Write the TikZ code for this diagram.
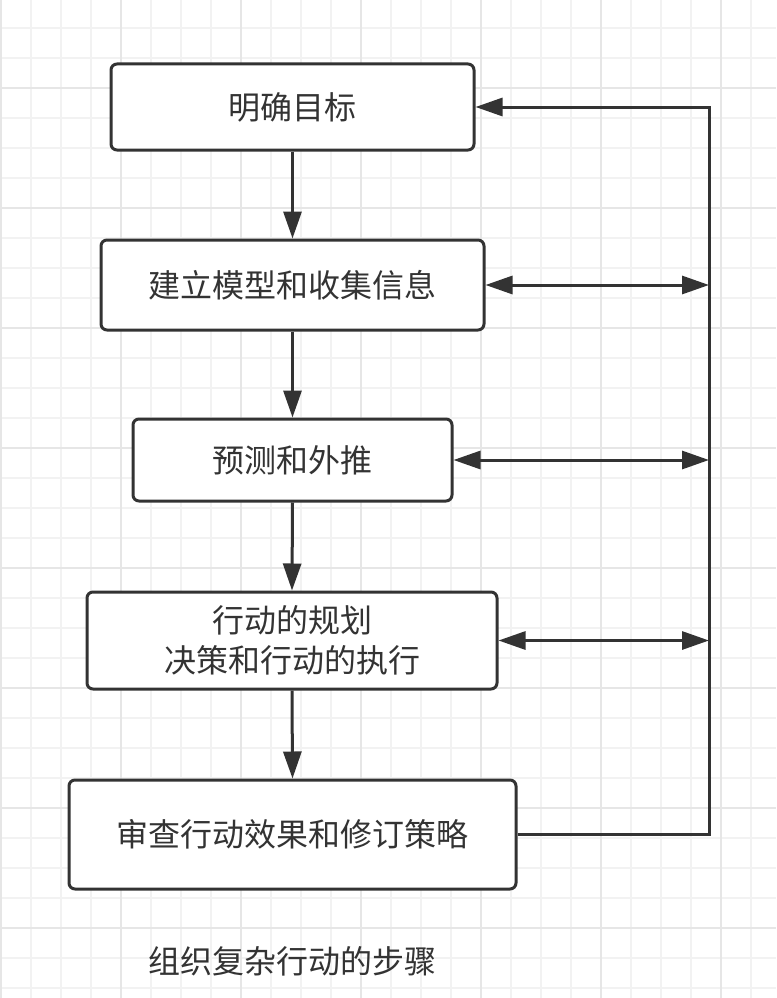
\documentclass[tikz,border=0pt]{standalone}
\usepackage{fontspec}
\newfontfamily\cjk{Noto Sans CJK SC}
\usetikzlibrary{arrows.meta}
\definecolor{ink}{HTML}{333333}
\definecolor{gridminor}{HTML}{F2F2F2}
\definecolor{gridmajor}{HTML}{E6E6E6}
\tikzset{
  stepbox/.style={draw=ink, fill=white, line width=3pt, rounded corners=6pt,
    text=ink, font=\fontsize{32}{40}\selectfont\cjk, align=center, inner sep=0pt},
  conn/.style={draw=ink, line width=3pt, line join=miter},
  tip/.style={-{Triangle[length=27pt,width=18pt]}},
  dtip/.style={{Triangle[length=27pt,width=18pt]}-{Triangle[length=27pt,width=18pt]}},
}
\begin{document}
\begin{tikzpicture}[x=1pt,y=-1pt]
\useasboundingbox (0,0) rectangle (776,998);
\fill[white] (0,0) rectangle (776,998);
% grid
\foreach \gx in {1,31,...,775} {\draw[gridminor, line width=1.2pt] (\gx,0) -- (\gx,998);}
\foreach \gy in {28,58,...,998} {\draw[gridminor, line width=1.2pt] (0,\gy) -- (776,\gy);}
\foreach \gx in {1,121,...,775} {\draw[gridmajor, line width=1.2pt] (\gx,0) -- (\gx,998);}
\foreach \gy in {88,208,...,998} {\draw[gridmajor, line width=1.2pt] (0,\gy) -- (776,\gy);}

% boxes
\node[stepbox, minimum width=363pt, minimum height=86pt] (b1) at (292.5,107) {明确目标};
\node[stepbox, minimum width=383pt, minimum height=90pt] (b2) at (292.5,285) {建立模型和收集信息};
\node[stepbox, minimum width=319pt, minimum height=82pt] (b3) at (292.5,460) {预测和外推};
\node[stepbox, minimum width=410pt, minimum height=97pt] (b4) at (292,640.5) {行动的规划\\决策和行动的执行};
\node[stepbox, minimum width=447pt, minimum height=109pt] (b5) at (292.5,834.5) {审查行动效果和修订策略};

\node[text=ink, font=\fontsize{32}{40}\selectfont\cjk, inner sep=0pt] (cap) at (292.5,961) {组织复杂行动的步骤};

% vertical down arrows
\draw[conn, tip] (b1.south) -- (b2.north);
\draw[conn, tip] (b2.south) -- (b3.north);
\draw[conn, tip] (b3.south) -- (b4.north);
\draw[conn, tip] (b4.south) -- (b5.north);

% feedback line
\coordinate (rtop) at (709,107);
\coordinate (rx) at (709,0);
\draw[conn, tip] (b5.east) -| (rtop) -- (b1.east);

% double arrows
\draw[conn, dtip] (b2.east) -- (b2.east -| rx);
\draw[conn, dtip] (b3.east) -- (b3.east -| rx);
\draw[conn, dtip] (b4.east) -- (b4.east -| rx);
\end{tikzpicture}
\end{document}
